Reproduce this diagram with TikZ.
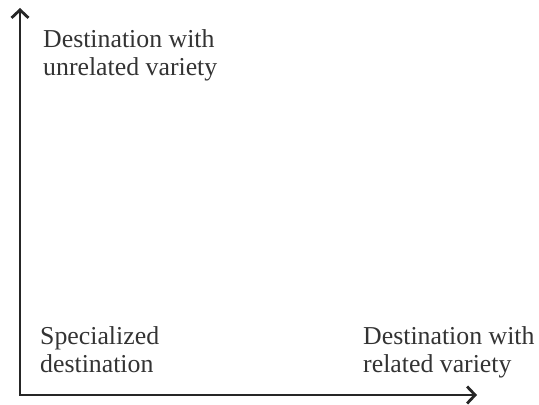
\documentclass[tikz,border=0pt]{standalone}
\usepackage{fontspec}
\setmainfont{Liberation Serif}
\usetikzlibrary{arrows.meta}

\begin{document}
\begin{tikzpicture}[x=1bp, y=1bp,
            axis/.style={{Straight Barb[length=8bp, width=17bp]}-{Straight Barb[length=8bp, width=17bp]},
                         line width=2.8bp, black!85},
            lbl/.style={anchor=base west, align=left, inner sep=0pt,
                        font=\fontsize{25.9}{28}\selectfont, text=black!80}
          ]
          \useasboundingbox (0,0) rectangle (539,404);
          \coordinate (origin) at (20, 9);
          \coordinate (ytip)   at (20, 396);
          \coordinate (xtip)   at (477, 9);
          \draw[axis] (ytip) -- (origin) -- (xtip);
          \node[lbl] (unrel) at (43, 329) {Destination with\\unrelated variety};
          \node[lbl] (spec)  at (40, 32)  {Specialized\\destination};
          \node[lbl] (rel)   at (363, 32) {Destination with\\related variety};
        \end{tikzpicture}
\end{document}
